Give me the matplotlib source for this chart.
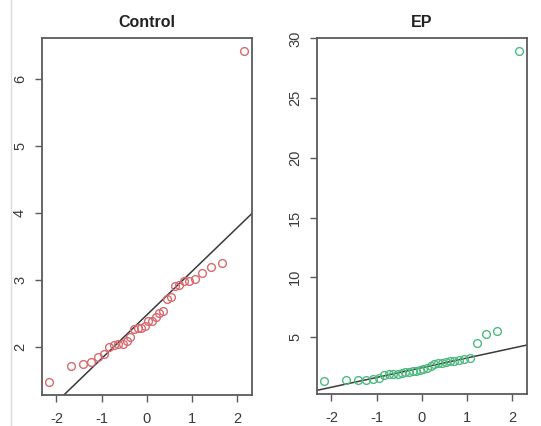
import numpy as np
import matplotlib
matplotlib.use("Agg")
import matplotlib.pyplot as plt
from matplotlib.lines import Line2D
from statistics import NormalDist

plt.rcParams['font.family'] = ['Liberation Sans', 'DejaVu Sans']

# Sorted sample values
control = [1.48, 1.71, 1.75, 1.77, 1.85, 1.90, 2.00, 2.03, 2.04, 2.05, 2.09, 2.15,
           2.27, 2.28, 2.28, 2.31, 2.38, 2.39, 2.45, 2.50, 2.53, 2.72, 2.75, 2.91,
           2.93, 2.98, 2.98, 3.01, 3.10, 3.19, 3.26, 6.42]
ep = [1.33, 1.36, 1.38, 1.40, 1.52, 1.60, 1.82, 1.86, 1.88, 1.92, 1.98, 2.03,
      2.08, 2.12, 2.15, 2.20, 2.30, 2.42, 2.60, 2.78, 2.82, 2.86, 2.92, 2.96,
      3.02, 3.08, 3.14, 3.28, 4.50, 5.28, 5.47, 28.9]
titles = ["Control", "EP"]
colors = ["#d76a6e", "#4dba7f"]
xticks = [-2, -1, 0, 1, 2]
yticks_list = [[2, 3, 4, 5, 6], [5, 10, 15, 20, 25, 30]]

nd = NormalDist()

def ppoints(n):
    a = 3/8 if n <= 10 else 0.5
    return [(i + 1 - a) / (n + 1 - 2 * a) for i in range(n)]

def rlim(v):
    lo, hi = min(v), max(v)
    d = (hi - lo) * 0.04
    return lo - d, hi + d

W, H = 541, 426
fig = plt.figure(figsize=(W / 100, H / 100), dpi=100)
fig.add_artist(Line2D([11 / W, 11 / W], [0, 1], color="#dcdcdc", lw=1.0))

boxes = [(41.7, 37.7, 251.7, 395.0), (316.7, 38.3, 526.7, 394.0)]
frame_col = "#5a5a5a"
for k, data in enumerate([control, ep]):
    x0, y0, x1, y1 = boxes[k]
    ax = fig.add_axes([x0 / W, 1 - y1 / H, (x1 - x0) / W, (y1 - y0) / H])
    y = np.sort(np.array(data))
    n = len(y)
    q = np.array([nd.inv_cdf(p) for p in ppoints(n)])
    ax.plot(q, y, linestyle="none", marker="o", markersize=5.6,
            markerfacecolor="none", markeredgecolor=colors[k], markeredgewidth=1.0)
    # qqline through quartiles
    yq1, yq3 = np.quantile(y, [0.25, 0.75])
    xq1, xq3 = nd.inv_cdf(0.25), nd.inv_cdf(0.75)
    slope = (yq3 - yq1) / (xq3 - xq1)
    inter = yq1 - slope * xq1
    ax.axline((0, inter), slope=slope, color="#3a3a3a", lw=1.1, zorder=1)
    ax.set_xlim(*rlim(q))
    ax.set_ylim(*rlim(y))
    ax.set_xticks(xticks)
    ax.set_xticklabels([str(t) for t in xticks])
    ax.set_yticks(yticks_list[k])
    ax.set_yticklabels([str(t) for t in yticks_list[k]], rotation=90, va="center")
    for s in ax.spines.values():
        s.set_color(frame_col)
        s.set_linewidth(1.3)
    ax.tick_params(axis="both", direction="out", length=5, width=1.0,
                   color=frame_col, labelcolor="#3a3a3a", labelsize=10.5)
    ax.tick_params(axis="x", pad=7)
    ax.tick_params(axis="y", pad=5.5)
    ax.set_title(titles[k], fontsize=11.5, fontweight="bold", color="#222222", pad=8)

fig.savefig("out.png", dpi=100)
